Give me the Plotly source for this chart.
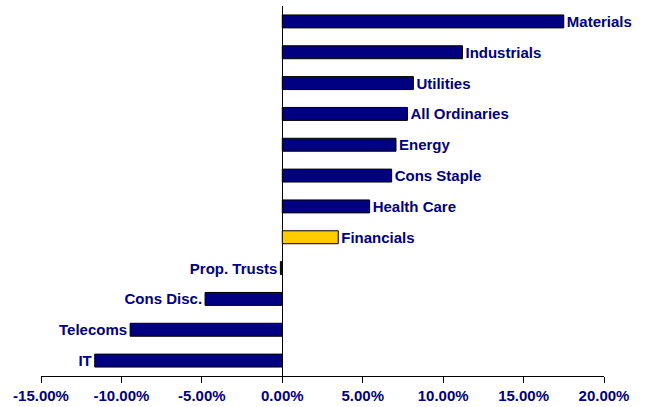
import plotly.graph_objects as go

categories = ["Materials", "Industrials", "Utilities", "All Ordinaries", "Energy",
              "Cons Staple", "Health Care", "Financials", "Prop. Trusts",
              "Cons Disc.", "Telecoms", "IT"]
returns = [0.1750, 0.1120, 0.0815, 0.0778, 0.0707, 0.0680, 0.0543, 0.0348,
           -0.0012, -0.0480, -0.0946, -0.1166]
bar_colors = ["#000080"] * 7 + ["#FFCC00"] + ["#000080"] * 4
tick_vals = [-0.15, -0.10, -0.05, 0.0, 0.05, 0.10, 0.15, 0.20]
tick_labels = ["-15.00%", "-10.00%", "-5.00%", "0.00%", "5.00%", "10.00%",
               "15.00%", "20.00%"]

navy = "#000080"
font_family = "Liberation Sans, Arial, sans-serif"

fig = go.Figure(go.Bar(
    x=returns,
    y=categories,
    orientation="h",
    marker=dict(color=bar_colors, line=dict(color="#000000", width=1)),
    text=categories,
    textposition="outside",
    constraintext="none",
    textfont=dict(family=font_family, size=15, color=navy, weight="bold"),
    cliponaxis=False,
    width=0.42,
    hoverinfo="skip",
))

fig.update_layout(
    width=646, height=407,
    margin=dict(l=41, r=42, t=6, b=31),
    plot_bgcolor="white", paper_bgcolor="white",
    showlegend=False,
    font=dict(family=font_family, size=15, color=navy),
)
fig.update_xaxes(
    range=[-0.15, 0.20],
    tickvals=tick_vals,
    ticktext=tick_labels,
    tickfont=dict(family=font_family, size=15, color=navy, weight="bold"),
    showgrid=False,
    zeroline=True, zerolinecolor="#000000", zerolinewidth=1,
    showline=True, linecolor="#000000", linewidth=1,
    ticks="outside", ticklen=6, tickcolor="#000000", tickwidth=1,
    automargin=False,
)
fig.update_yaxes(
    autorange="reversed",
    showticklabels=False,
    showgrid=False,
    zeroline=False,
    showline=False,
    ticks="",
    automargin=False,
)

fig.write_html("out.html", config={"displayModeBar": False},
               post_script="document.body.style.margin='0';")
